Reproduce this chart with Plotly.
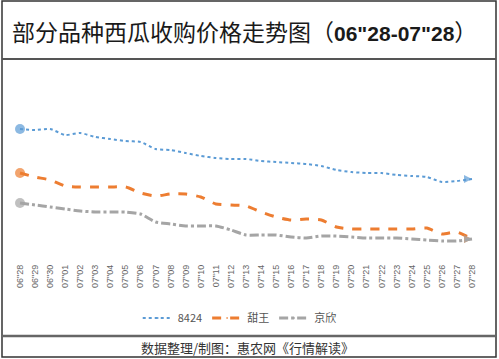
import plotly.graph_objects as go

dates = ['06"28', '06"29', '06"30'] + ['07"%02d' % d for d in range(1, 29)]

s_8424 = [2.21, 2.20, 2.21, 2.15, 2.17, 2.13, 2.11, 2.09, 2.08, 2.01, 2.00, 1.97, 1.94, 1.92, 1.91, 1.91,
          1.89, 1.88, 1.87, 1.86, 1.84, 1.80, 1.78, 1.77, 1.77, 1.75, 1.74, 1.73, 1.68, 1.69, 1.71]
s_tianwang = [1.77, 1.73, 1.70, 1.64, 1.63, 1.63, 1.63, 1.63, 1.57, 1.54, 1.56, 1.56, 1.53, 1.46, 1.45, 1.44,
              1.38, 1.33, 1.30, 1.31, 1.30, 1.23, 1.21, 1.21, 1.21, 1.21, 1.21, 1.22, 1.16, 1.18, 1.11]
s_jingxin = [1.47, 1.45, 1.43, 1.41, 1.39, 1.38, 1.38, 1.38, 1.36, 1.28, 1.26, 1.24, 1.24, 1.24, 1.20, 1.15,
             1.15, 1.15, 1.13, 1.12, 1.14, 1.14, 1.13, 1.12, 1.12, 1.12, 1.11, 1.10, 1.09, 1.09, 1.11]

names = ["8424", "甜王", "京欣"]
colors = ["#5B9BD5", "#ED7D31", "#A5A5A5"]
dashes = ["dot", "dash", "dashdot"]
widths = [2, 3, 3]

W, H = 499, 359
ML, MR, MT, MB = 5, 5, 70, 109
PW = W - ML - MR
PH = H - MT - MB

def px(x):
    return (x - ML) / PW

def py(y):
    return (H - MB - y) / PH

fig = go.Figure()
n = len(dates)
xs = list(range(n))
for name, vals, c, d, w in zip(names, [s_8424, s_tianwang, s_jingxin], colors, dashes, widths):
    symbols = ["circle"] * (n - 1) + ["arrow-right"]
    sizes = [10] + [0] * (n - 2) + [8]
    fig.add_trace(go.Scatter(
        x=xs, y=vals, name=name, mode="lines+markers",
        line=dict(color=c, dash=d, width=w, shape="spline", smoothing=0.6),
        marker=dict(color=c, symbol=symbols, size=sizes, line=dict(width=0)),
    ))

scale = (472 - 20) / 30
xa = -(20 - ML) / scale
xb = 30 + (W - MR - 472) / scale

fig.update_xaxes(range=[xa, xb], tickvals=xs, ticktext=dates, tickangle=-90,
                 tickfont=dict(size=9, color="#666666", family="Liberation Sans"),
                 showgrid=False, zeroline=False, showline=False, ticklabelstandoff=12)
fig.update_yaxes(range=[1.0, 2.8], visible=False, showgrid=False, zeroline=False)

title_html = ('部分品种西瓜收购价格走势图（<span style="font-family:\'Liberation Sans\';font-size:21px;">'
              '<b>06"28-07"28</b></span>）')

fig.update_layout(
    width=W, height=H,
    margin=dict(l=ML, r=MR, t=MT, b=MB),
    paper_bgcolor="white", plot_bgcolor="white",
    showlegend=True,
    legend=dict(orientation="h", x=0.48, xanchor="center", yref="container",
                y=1 - 318 / H, yanchor="middle",
                font=dict(size=11, color="#555555", family="Noto Sans CJK SC"),
                itemwidth=30, bgcolor="rgba(0,0,0,0)"),
    font=dict(family="Noto Sans CJK SC"),
    annotations=[
        dict(text=title_html, xref="paper", yref="paper", x=px(10), y=py(31),
             xanchor="left", yanchor="middle", showarrow=False,
             font=dict(size=23, color="#1a1a1a", family="Noto Sans CJK SC")),
        dict(text="数据整理/制图：惠农网《行情解读》", xref="paper", yref="paper",
             x=px(247), y=py(347), xanchor="center", yanchor="middle", showarrow=False,
             font=dict(size=13, color="#333333", family="Noto Sans CJK SC")),
    ],
    shapes=[
        dict(type="rect", xref="paper", yref="paper", x0=px(2), x1=px(496), y0=py(1), y1=py(357),
             line=dict(color="#333333", width=1.5)),
        dict(type="line", xref="paper", yref="paper", x0=px(2), x1=px(496), y0=py(59), y1=py(59),
             line=dict(color="#555555", width=2)),
        dict(type="line", xref="paper", yref="paper", x0=px(2), x1=px(496), y0=py(336), y1=py(336),
             line=dict(color="#666666", width=2.5)),
    ],
)

fig.write_html("out.html", config={"displayModeBar": False},
               post_script="document.body.style.margin='0px';document.body.style.overflow='hidden';")
